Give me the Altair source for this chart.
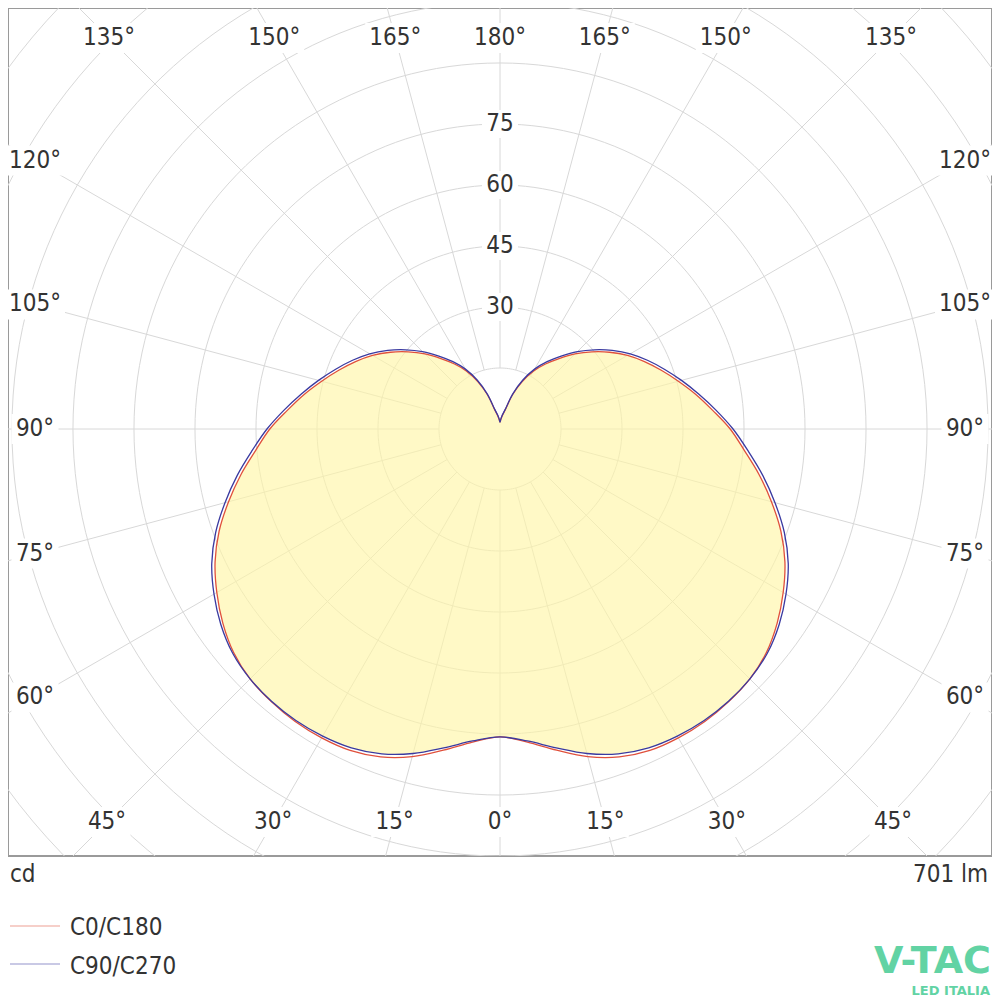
import math
import altair as alt
import pandas as pd

# ---------------- data ----------------
angles = list(range(0, 181, 5))  # gamma, degrees from nadir
c90_c270 = [75.7, 77.0, 79.6, 82.6, 85.0, 86.5, 87.2, 87.5, 87.4, 86.9,
            85.8, 83.8, 81.2, 78.2, 74.4, 70.0, 65.6, 61.2, 57.3, 53.3,
            49.6, 46.2, 43.0, 40.0, 37.0, 33.7, 30.3, 26.9, 23.4, 20.2,
            17.0, 13.3, 9.2, 5.0, 3.6, 2.5, 1.7]
c0_c180 = [75.7, 77.3, 80.2, 83.4, 85.8, 87.2, 87.7, 87.8, 87.5, 86.9,
           85.5, 83.2, 80.4, 77.3, 73.5, 69.1, 64.7, 60.3, 56.6, 52.5,
           48.9, 45.4, 42.2, 39.2, 36.2, 32.9, 29.5, 26.1, 22.6, 19.5,
           16.4, 12.8, 8.9, 4.8, 3.4, 2.4, 1.7]
ring_values = [15, 30, 45, 60, 75, 90, 105, 120, 135, 150]
ring_labels = [30, 45, 60, 75]
angle_ticks = list(range(0, 360, 15))
label_angles = list(range(0, 181, 15))
series_names = ["C0/C180", "C90/C270"]
unit_left = "cd"
unit_right = "701 lm"

# ---------------- layout ----------------
K = 4.067            # px per cd
PW, PH = 984, 848    # plot area (= frame)
CX, CY = 492, 421    # pole position inside plot area
xdom = [-CX / K, (PW - CX) / K]
ydom = [(CY - PH) / K, CY / K]
XS = alt.Scale(domain=xdom, nice=False, zero=False)
YS = alt.Scale(domain=ydom, nice=False, zero=False)
FONT = "DejaVu Sans Condensed, DejaVu Sans"
TXT = "#333333"
RED = "#e0503c"
BLUE = "#3a3aa0"
GRID = "#d8d8d8"
LOGO = "#62d3a4"


def X(f="x"):
    return alt.X(f"{f}:Q", scale=XS, axis=None)


def Y(f="y"):
    return alt.Y(f"{f}:Q", scale=YS, axis=None)


def polygon(vals):
    rows = []
    i = 0
    for g, v in zip(angles, vals):
        r = math.radians(g)
        rows.append({"i": i, "x": v * math.sin(r), "y": -v * math.cos(r)})
        i += 1
    for g, v in list(zip(angles, vals))[-2:0:-1]:
        r = math.radians(g)
        rows.append({"i": i, "x": -v * math.sin(r), "y": -v * math.cos(r)})
        i += 1
    return pd.DataFrame(rows)


# grid rings
ring_rows = []
for R in ring_values:
    for a in range(0, 361, 2):
        t = math.radians(a)
        ring_rows.append({"ring": R, "a": a, "x": R * math.cos(t), "y": R * math.sin(t)})
rings = alt.Chart(pd.DataFrame(ring_rows)).mark_line(
    color=GRID, strokeWidth=1, clip=True
).encode(x=X(), y=Y(), detail="ring:N", order="a:Q")

# radial lines
rad_rows = []
for g in angle_ticks:
    t = math.radians(g)
    rad_rows.append({"x": 15 * math.sin(t), "y": -15 * math.cos(t),
                     "x2": 220 * math.sin(t), "y2": -220 * math.cos(t)})
radials = alt.Chart(pd.DataFrame(rad_rows)).mark_rule(
    color=GRID, strokeWidth=1, clip=True
).encode(x=X(), y=Y(), x2="x2:Q", y2="y2:Q")

# fill (inner envelope of both curves)
fill_vals = [min(a, b) for a, b in zip(c0_c180, c90_c270)]
fill = alt.Chart(polygon(fill_vals)).mark_line(
    fill="#fff5a6", fillOpacity=0.64, strokeOpacity=0, interpolate="cardinal-closed"
).encode(x=X(), y=Y(), order="i:Q")

# angle labels at frame edge
XL = 465 / K
YB = 393 / K
YT = 391 / K
lab_rows = []
for g in label_angles:
    sides = [1] if g in (0, 180) else [1, -1]
    t = math.radians(g)
    s, c = math.sin(t), math.cos(t)
    cands = []
    if abs(s) > 1e-9:
        cands.append(XL / abs(s))
    if abs(c) > 1e-9:
        cands.append((YB if c > 0 else YT) / abs(c))
    d = min(cands)
    for sd in sides:
        txt = f"{g}°"
        hw = (len(txt) * 13 + 8) / 2 / K
        hh = 15 / K
        x = sd * d * s
        y = -d * c
        lab_rows.append({"x": x, "y": y, "t": txt, "x0": x - hw, "x1": x + hw,
                         "y0": y - hh, "y1": y + hh})
labdf = pd.DataFrame(lab_rows)
lab_bg = alt.Chart(labdf).mark_rect(color="white").encode(
    x=X("x0"), x2="x1:Q", y=Y("y0"), y2="y1:Q")
lab_txt = alt.Chart(labdf).mark_text(
    font=FONT, fontSize=24, color=TXT, align="center", baseline="middle"
).encode(x=X(), y=Y(), text="t:N")

# ring value labels
rl_rows = []
for v in ring_labels:
    rl_rows.append({"x": 0.0, "y": float(v), "t": str(v),
                    "x0": -18 / K, "x1": 18 / K, "y0": v - 14 / K, "y1": v + 14 / K})
rldf = pd.DataFrame(rl_rows)
rl_bg = alt.Chart(rldf).mark_rect(color="white").encode(
    x=X("x0"), x2="x1:Q", y=Y("y0"), y2="y1:Q")
rl_txt = alt.Chart(rldf).mark_text(
    font=FONT, fontSize=24, color=TXT, align="center", baseline="middle"
).encode(x=X(), y=Y(), text="t:N")

# curves
red_line = alt.Chart(polygon(c0_c180)).mark_line(
    color=RED, strokeWidth=1.3, interpolate="cardinal-closed"
).encode(x=X(), y=Y(), order="i:Q")
blue_line = alt.Chart(polygon(c90_c270)).mark_line(
    color=BLUE, strokeWidth=1.3, interpolate="cardinal-closed"
).encode(x=X(), y=Y(), order="i:Q")

# legend / annotations below the frame
one = pd.DataFrame({"a": [0]})
cd_txt = alt.Chart(one).mark_text(text=unit_left, font=FONT, fontSize=24, color=TXT,
                                  align="left", baseline="middle").encode(
    x=alt.value(2), y=alt.value(867))
lm_txt = alt.Chart(one).mark_text(text=unit_right, font=FONT, fontSize=24, color=TXT,
                                  align="right", baseline="middle").encode(
    x=alt.value(980), y=alt.value(867))
leg_red = alt.Chart(one).mark_rule(color=RED, strokeWidth=1, opacity=0.55).encode(
    x=alt.value(2), x2=alt.value(52), y=alt.value(918))
leg_blue = alt.Chart(one).mark_rule(color=BLUE, strokeWidth=1, opacity=0.55).encode(
    x=alt.value(2), x2=alt.value(52), y=alt.value(956))
leg_t1 = alt.Chart(one).mark_text(text=series_names[0], font=FONT, fontSize=24, color=TXT,
                                  align="left", baseline="middle").encode(
    x=alt.value(62), y=alt.value(920))
leg_t2 = alt.Chart(one).mark_text(text=series_names[1], font=FONT, fontSize=24, color=TXT,
                                  align="left", baseline="middle").encode(
    x=alt.value(62), y=alt.value(959))
logo1 = alt.Chart(one).mark_text(text="V-TAC", font="DejaVu Sans", fontSize=38,
                                 fontWeight="bold", color=LOGO,
                                 align="right", baseline="middle").encode(
    x=alt.value(983), y=alt.value(954))
logo2 = alt.Chart(one).mark_text(text="LED ITALIA", font="DejaVu Sans", fontSize=13,
                                 fontWeight="bold", color=LOGO,
                                 align="right", baseline="middle").encode(
    x=alt.value(982), y=alt.value(983))

chart = alt.layer(
    rings, radials, fill, lab_bg, lab_txt, rl_bg, rl_txt, red_line, blue_line,
    cd_txt, lm_txt, leg_red, leg_blue, leg_t1, leg_t2, logo1, logo2
).properties(
    width=PW, height=PH, autosize="none",
    padding={"left": 0, "top": 0, "right": 0, "bottom": 144}
).configure_view(stroke="#9a9a9a", strokeWidth=2)

chart.save("out.html", embed_options={"renderer": "svg", "actions": False})
